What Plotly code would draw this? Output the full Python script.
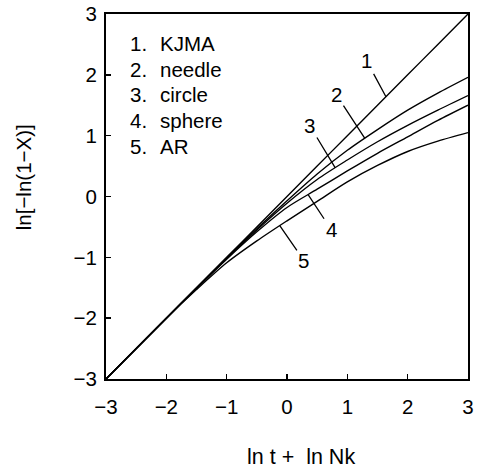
import numpy as np
import plotly.graph_objects as go

# x axis: ln t + ln Nk
x_vals = [-3, -2, -1.5, -1, -0.5, 0, 0.5, 1, 1.5, 2, 2.5, 3]
# y: ln[-ln(1-X)] for each model
kjma = [-3, -2, -1.5, -1, -0.5, 0, 0.5, 1, 1.5, 2, 2.5, 3]
needle = [-3, -2, -1.5, -1.01, -0.53, -0.07, 0.37, 0.76, 1.10, 1.42, 1.70, 1.96]
circle = [-3, -2, -1.51, -1.02, -0.55, -0.11, 0.28, 0.60, 0.90, 1.17, 1.42, 1.66]
sphere = [-3, -2, -1.51, -1.03, -0.58, -0.18, 0.12, 0.42, 0.71, 0.98, 1.25, 1.50]
ar = [-3, -2, -1.53, -1.09, -0.73, -0.40, -0.08, 0.24, 0.51, 0.74, 0.91, 1.05]

series = [kjma, needle, circle, sphere, ar]
legend_names = ["KJMA", "needle", "circle", "sphere", "AR"]
curve_numbers = ["1", "2", "3", "4", "5"]

# curve-number callouts: label centre and the x where the leader touches the curve
label_x = [1.32, 0.82, 0.38, 0.73, 0.28]
label_y = [2.23, 1.67, 1.16, -0.54, -1.05]
tip_x = [1.64, 1.29, 0.80, 0.35, -0.12]

tick_vals = [-3, -2, -1, 0, 1, 2, 3]

FONT = "Liberation Sans, Arial, Helvetica, sans-serif"
FS = 20.5

fig = go.Figure()
for ys, name in zip(series, legend_names):
    fig.add_trace(go.Scatter(x=x_vals, y=ys, mode="lines", name=name,
                             line=dict(color="black", width=1.4, shape="spline", smoothing=0.8),
                             showlegend=False, hoverinfo="skip"))

annotations = []
for num, ys, lx, ly, tx in zip(curve_numbers, series, label_x, label_y, tip_x):
    ty = float(np.interp(tx, x_vals, ys))
    annotations.append(dict(x=tx, y=ty, xref="x", yref="y", ax=lx, ay=ly, axref="x", ayref="y",
                            text=num, showarrow=True, arrowhead=0, arrowwidth=1.3,
                            arrowcolor="black", standoff=0, startstandoff=0,
                            font=dict(family=FONT, size=FS, color="black")))

# in-plot legend text
leg_y0 = 2.51
leg_dy = 0.42
for i, (num, name) in enumerate(zip(curve_numbers, legend_names)):
    yy = leg_y0 - i * leg_dy
    annotations.append(dict(x=-2.63, y=yy, xref="x", yref="y", text=num + ".", showarrow=False,
                            xanchor="left", yanchor="middle",
                            font=dict(family=FONT, size=FS, color="black")))
    annotations.append(dict(x=-2.14, y=yy, xref="x", yref="y", text=name, showarrow=False,
                            xanchor="left", yanchor="middle",
                            font=dict(family=FONT, size=FS, color="black")))

# axis titles
annotations.append(dict(x=0.539, y=-0.213, xref="paper", yref="paper", text="ln t +  ln Nk",
                        showarrow=False, xanchor="center", yanchor="middle",
                        font=dict(family=FONT, size=21.5, color="black")))
annotations.append(dict(x=-0.229, y=0.553, xref="paper", yref="paper", text="ln[\u2212ln(1\u2212X)]",
                        showarrow=False, xanchor="center", yanchor="middle", textangle=-90,
                        font=dict(family=FONT, size=FS, color="black")))

axis_common = dict(range=[-3, 3], tickvals=tick_vals, ticks="inside", ticklen=5, tickwidth=1.5,
                   tickcolor="black", showline=True, linecolor="black", linewidth=2, mirror=True,
                   showgrid=False, zeroline=False, automargin=False, ticklabeloverflow="allow",
                   tickfont=dict(family=FONT, size=FS, color="black"))

fig.update_layout(
    width=477, height=474,
    margin=dict(l=106, r=9, t=14, b=95, autoexpand=False),
    paper_bgcolor="white", plot_bgcolor="white",
    xaxis=dict(**axis_common, ticklabelstandoff=8),
    yaxis=dict(**axis_common, ticklabelstandoff=3),
    annotations=annotations,
)

fig.write_html("out.html", config={"displayModeBar": False, "staticPlot": True},
               post_script="document.body.style.margin='0';")
